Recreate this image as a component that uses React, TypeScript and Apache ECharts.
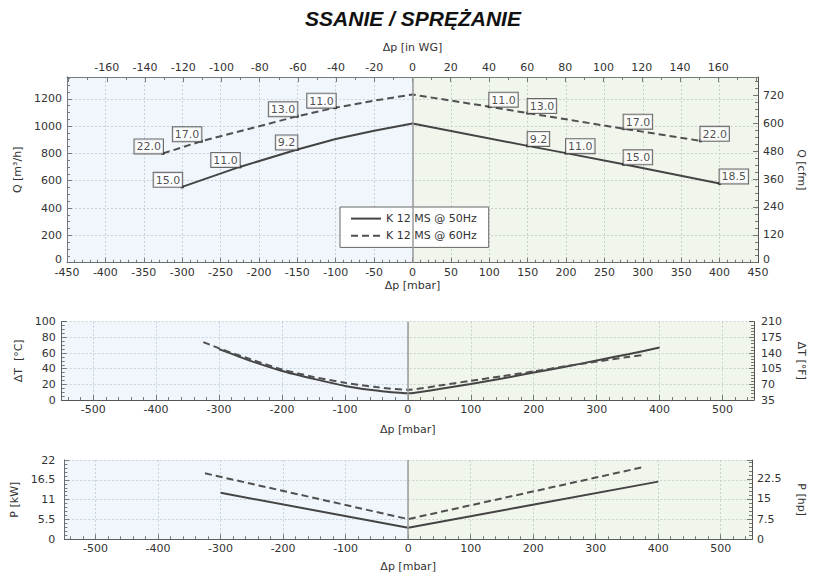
import React, { useEffect, useRef } from 'react';
import * as echarts from 'echarts';

const TITLE = 'SSANIE / SPRĘŻANIE';
const NAME_50 = 'K 12 MS @ 50Hz';
const NAME_60 = 'K 12 MS @ 60Hz';

// ---- Q [m3/h] vs dp [mbar]
const q50Dp = [-300, -225, -150, -100, -50, 0, 150, 200, 275, 400];
const q50Flow = [555, 701, 829, 906, 966, 1019, 855, 802, 720, 580];
const q50Power = ['15.0', '11.0', '9.2', '', '', '', '9.2', '11.0', '15.0', '18.5'];

const q60Dp = [-325, -275, -150, -100, -50, 0, 100, 150, 275, 375];
const q60Flow = [800, 889, 1072, 1135, 1186, 1231, 1142, 1095, 981, 892];
const q60Power = ['22.0', '17.0', '13.0', '11.0', '', '', '11.0', '13.0', '17.0', '22.0'];

// ---- dT [°C] vs dp [mbar]
const dt50Dp = [-300, -250, -200, -150, -100, -50, 0, 50, 100, 150, 200, 250, 300, 350, 400];
const dt50Val = [65, 50, 37, 27, 18, 12, 8.5, 14, 20.5, 27.5, 35, 42.5, 50.5, 58.5, 67];
const dt60Dp = [-325, -300, -250, -200, -150, -100, -50, 0, 50, 100, 150, 200, 250, 300, 350, 375];
const dt60Val = [74, 66, 52, 39, 29.5, 22, 16.5, 13, 18.5, 24.5, 30.5, 36.5, 43, 49, 55, 57.5];

// ---- P [kW] vs dp [mbar]
const p50Dp = [-300, 0, 400];
const p50Val = [12.9, 3.2, 16.0];
const p60Dp = [-325, 0, 375];
const p60Val = [18.3, 5.6, 20.0];

// unit conversions for secondary axes
const M3H_TO_CFM = 0.588578;
const MBAR_TO_INWG = 0.401865;
const KW_TO_HP = 1.34102;
const Q_CFM_MAX = 800;
const DP_TOP_RANGE = 450;
const DP_LOW_RANGE = 550;
const DT_F_MIN = 35;
const DT_F_MAX = 210;

const FONT = 'DejaVu Sans';
const AXIS_COLOR = '#555';
const TEXT_COLOR = '#333';
const LINE_COLOR = '#444';
const BLUE_BG = 'rgba(200,222,245,0.27)';
const GREEN_BG = 'rgba(205,220,185,0.27)';

const pairs = (xs: number[], ys: number[]) => xs.map((x, i) => [x, ys[i]]);
const plain = (v: number) => String(Math.round(v * 100) / 100);
// raise the "0" label a little so it clears the x-axis label below it
const raisedZero = (v: number) => (v === 0 ? '{z|0}' : plain(v));
const raisedRich = {
  z: { fontFamily: FONT, fontSize: 11, color: TEXT_COLOR, padding: [0, 0, 7, 0] },
};

function axis(o: any): any {
  const {
    axisLine = {},
    axisTick = {},
    minorTick = {},
    axisLabel = {},
    splitLine = {},
    ...rest
  } = o;
  return {
    nameLocation: 'middle',
    nameTextStyle: { fontFamily: FONT, fontSize: 11, color: TEXT_COLOR },
    axisLine: { show: true, onZero: false, lineStyle: { color: AXIS_COLOR, width: 1 }, ...axisLine },
    axisTick: { show: true, inside: true, length: 5, lineStyle: { color: AXIS_COLOR }, ...axisTick },
    minorTick: { show: true, splitNumber: 5, length: 3, lineStyle: { color: AXIS_COLOR }, ...minorTick },
    axisLabel: { fontFamily: FONT, fontSize: 11, color: TEXT_COLOR, margin: 4, formatter: plain, ...axisLabel },
    splitLine: {
      show: false,
      lineStyle: { color: '#c9d0d6', width: 1, type: [2, 2] },
      ...splitLine,
    },
    ...rest,
  };
}

const labelStyle = {
  fontFamily: FONT,
  fontSize: 11,
  color: '#222',
  backgroundColor: '#fff',
  borderColor: '#444',
  borderWidth: 1,
  padding: [2, 2, 1, 2],
};

function labelPoints(xs: number[], ys: number[], texts: string[]) {
  const out: any[] = [];
  xs.forEach((x, i) => {
    if (!texts[i]) return;
    out.push({
      value: [x, ys[i]],
      label: {
        show: true,
        formatter: texts[i],
        position: [1.5, 1.5],
        align: x < 0 ? 'right' : 'left',
        verticalAlign: 'bottom',
        ...labelStyle,
      },
    });
  });
  return out;
}

function backgrounds(range: number) {
  return {
    silent: true,
    data: [
      [{ xAxis: -range, itemStyle: { color: BLUE_BG } }, { xAxis: 0 }],
      [{ xAxis: 0, itemStyle: { color: GREEN_BG } }, { xAxis: range }],
    ],
  };
}

const zeroLine = {
  silent: true,
  symbol: 'none',
  label: { show: false },
  lineStyle: { color: '#9a9a9a', width: 1.5, type: 'solid' },
  data: [{ xAxis: 0 }],
};

const solid = { color: LINE_COLOR, width: 2, type: 'solid' };
const dashed = { color: '#505050', width: 2, type: [7, 4] };

export default function App() {
  const ref = useRef<HTMLDivElement>(null);

  useEffect(() => {
    if (!ref.current) return;
    const chart = echarts.init(ref.current, null, { renderer: 'svg' });
    const qMax = Q_CFM_MAX / M3H_TO_CFM;
    const hpMax = 22 * KW_TO_HP;

    const option: any = {
      animation: false,
      backgroundColor: '#fff',
      textStyle: { fontFamily: FONT },
      graphic: [
        {
          type: 'text',
          x: 413,
          y: 18,
          style: {
            text: TITLE,
            align: 'center',
            verticalAlign: 'middle',
            font: 'italic bold 21px "Liberation Sans"',
            fill: '#111',
          },
        },
      ],
      legend: {
        data: [NAME_50, NAME_60],
        orient: 'vertical',
        left: 340,
        top: 207,
        backgroundColor: '#fff',
        borderColor: '#666',
        borderWidth: 1,
        padding: [6, 12, 6, 10],
        itemWidth: 30,
        itemHeight: 14,
        itemGap: 6,
        itemStyle: { opacity: 0 },
        textStyle: { fontFamily: FONT, fontSize: 11, color: TEXT_COLOR },
        selectedMode: false,
      },
      grid: [
        { left: 67, top: 77, width: 695.7, height: 185.7 },
        { left: 61.7, top: 321.7, width: 701, height: 78.3 },
        { left: 64.3, top: 460, width: 695.7, height: 79.3 },
      ],
      xAxis: [
        axis({
          gridIndex: 0,
          type: 'value',
          position: 'bottom',
          min: -DP_TOP_RANGE,
          max: DP_TOP_RANGE,
          interval: 50,
          name: 'Δp [mbar]',
          nameGap: 17,
          splitLine: { show: true },
          axisLabel: { margin: 4 },
        }),
        axis({
          gridIndex: 0,
          type: 'value',
          position: 'top',
          min: -DP_TOP_RANGE * MBAR_TO_INWG,
          max: DP_TOP_RANGE * MBAR_TO_INWG,
          splitNumber: 18,
          name: 'Δp [in WG]',
          nameGap: 24,
          minorTick: { splitNumber: 2 },
          axisLabel: {
            margin: 4,
            showMinLabel: false,
            showMaxLabel: false,
            formatter: (v: number) => (Math.abs(v) > 170 ? '' : String(Math.round(v))),
          },
        }),
        axis({
          gridIndex: 1,
          type: 'value',
          position: 'bottom',
          min: -DP_LOW_RANGE,
          max: DP_LOW_RANGE,
          splitNumber: 11,
          name: 'Δp [mbar]',
          nameGap: 24,
          splitLine: { show: true },
          axisLabel: { margin: 4, showMinLabel: false, showMaxLabel: false },
        }),
        axis({
          gridIndex: 2,
          type: 'value',
          position: 'bottom',
          min: -DP_LOW_RANGE,
          max: DP_LOW_RANGE,
          splitNumber: 11,
          name: 'Δp [mbar]',
          nameGap: 22,
          splitLine: { show: true },
          axisLabel: { margin: 4, showMinLabel: false, showMaxLabel: false },
        }),
      ],
      yAxis: [
        axis({
          gridIndex: 0,
          type: 'value',
          position: 'left',
          min: 0,
          max: qMax,
          interval: 200,
          name: 'Q [m³/h]',
          nameGap: 32,
          minorTick: { splitNumber: 4 },
          splitLine: { show: true },
          axisLabel: { margin: 5, showMaxLabel: false, formatter: raisedZero, rich: raisedRich },
        }),
        axis({
          gridIndex: 0,
          type: 'value',
          position: 'right',
          min: 0,
          max: Q_CFM_MAX,
          interval: 120,
          name: 'Q [cfm]',
          nameRotate: -90,
          nameGap: 38,
          minorTick: { splitNumber: 4 },
          axisLabel: { margin: 5, showMaxLabel: false, formatter: raisedZero, rich: raisedRich },
        }),
        axis({
          gridIndex: 1,
          type: 'value',
          position: 'left',
          min: 0,
          max: 100,
          interval: 20,
          name: 'ΔT  [°C]',
          nameGap: 27,
          minorTick: { splitNumber: 4 },
          splitLine: { show: true },
          axisLabel: { margin: 6 },
        }),
        axis({
          gridIndex: 1,
          type: 'value',
          position: 'right',
          min: DT_F_MIN,
          max: DT_F_MAX,
          interval: 35,
          name: 'ΔT [°F]',
          nameRotate: -90,
          nameGap: 42,
          minorTick: { splitNumber: 5 },
          axisLabel: { margin: 7 },
        }),
        axis({
          gridIndex: 2,
          type: 'value',
          position: 'left',
          min: 0,
          max: 22,
          interval: 5.5,
          name: 'P [kW]',
          nameGap: 26,
          minorTick: { splitNumber: 5 },
          splitLine: { show: true },
          axisLabel: { margin: 9 },
        }),
        axis({
          gridIndex: 2,
          type: 'value',
          position: 'right',
          min: 0,
          max: hpMax,
          interval: 7.5,
          name: 'P [hp]',
          nameRotate: -90,
          nameGap: 44,
          minorTick: { splitNumber: 5 },
          axisLabel: { margin: 5, showMaxLabel: false },
        }),
      ],
      series: [
        {
          name: NAME_50,
          type: 'line',
          xAxisIndex: 0,
          yAxisIndex: 0,
          symbol: 'none',
          silent: true,
          lineStyle: solid,
          itemStyle: { color: LINE_COLOR },
          data: pairs(q50Dp, q50Flow),
          markArea: backgrounds(DP_TOP_RANGE),
          markLine: zeroLine,
          z: 3,
        },
        {
          name: NAME_60,
          type: 'line',
          xAxisIndex: 0,
          yAxisIndex: 0,
          symbol: 'none',
          silent: true,
          lineStyle: dashed,
          itemStyle: { color: '#505050' },
          data: pairs(q60Dp, q60Flow),
          z: 3,
        },
        {
          name: 'labels50',
          type: 'scatter',
          xAxisIndex: 0,
          yAxisIndex: 0,
          symbol: 'rect',
          symbolSize: 3,
          silent: true,
          itemStyle: { color: '#222' },
          data: labelPoints(q50Dp, q50Flow, q50Power),
          z: 5,
        },
        {
          name: 'labels60',
          type: 'scatter',
          xAxisIndex: 0,
          yAxisIndex: 0,
          symbol: 'rect',
          symbolSize: 3,
          silent: true,
          itemStyle: { color: '#222' },
          data: labelPoints(q60Dp, q60Flow, q60Power),
          z: 5,
        },
        {
          name: NAME_50,
          type: 'line',
          xAxisIndex: 2,
          yAxisIndex: 2,
          symbol: 'none',
          smooth: 0.25,
          silent: true,
          lineStyle: solid,
          itemStyle: { color: LINE_COLOR },
          data: pairs(dt50Dp, dt50Val),
          markArea: backgrounds(DP_LOW_RANGE),
          markLine: zeroLine,
          z: 3,
        },
        {
          name: NAME_60,
          type: 'line',
          xAxisIndex: 2,
          yAxisIndex: 2,
          symbol: 'none',
          smooth: 0.25,
          silent: true,
          lineStyle: dashed,
          itemStyle: { color: '#505050' },
          data: pairs(dt60Dp, dt60Val),
          z: 3,
        },
        {
          name: NAME_50,
          type: 'line',
          xAxisIndex: 3,
          yAxisIndex: 4,
          symbol: 'none',
          silent: true,
          lineStyle: solid,
          itemStyle: { color: LINE_COLOR },
          data: pairs(p50Dp, p50Val),
          markArea: backgrounds(DP_LOW_RANGE),
          markLine: zeroLine,
          z: 3,
        },
        {
          name: NAME_60,
          type: 'line',
          xAxisIndex: 3,
          yAxisIndex: 4,
          symbol: 'none',
          silent: true,
          lineStyle: dashed,
          itemStyle: { color: '#505050' },
          data: pairs(p60Dp, p60Val),
          z: 3,
        },
      ],
    };

    chart.setOption(option);
    return () => chart.dispose();
  }, []);

  return (
    <div
      ref={ref}
      style={{ position: 'fixed', left: 0, top: 0, width: 815, height: 576, background: '#fff' }}
    />
  );
}
